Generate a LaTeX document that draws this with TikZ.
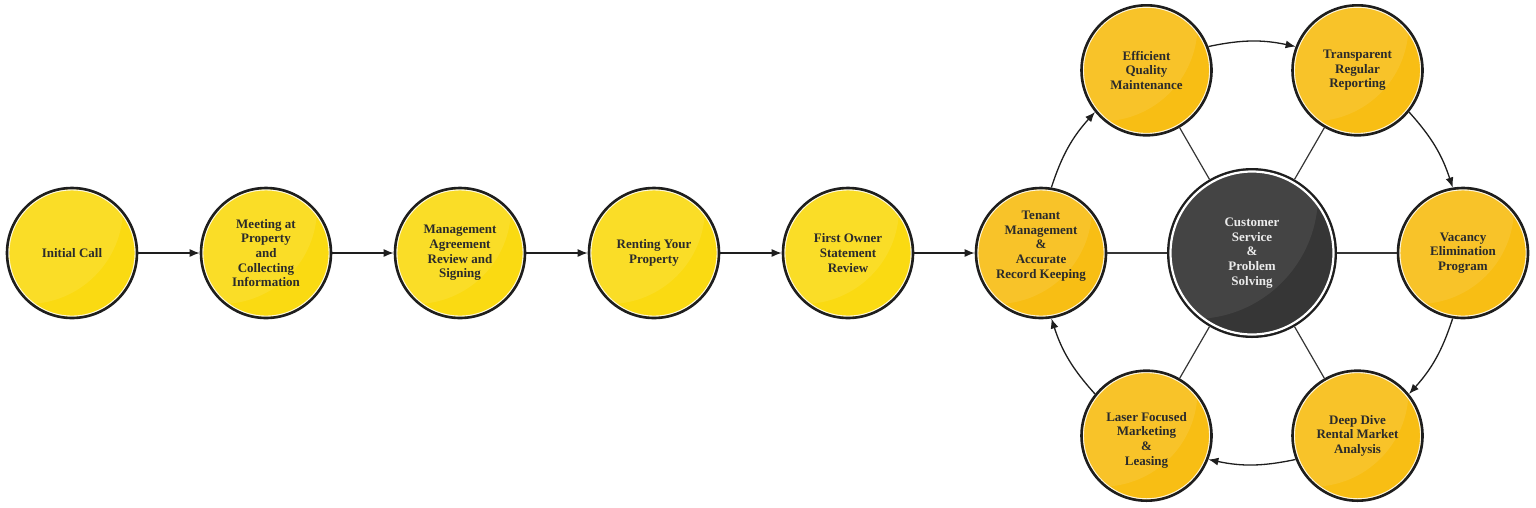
\documentclass[tikz,border=0pt]{standalone}
\usepackage{fontspec}
\setmainfont{Liberation Serif}
\usetikzlibrary{arrows.meta}
\definecolor{ylw}{HTML}{FADA12}
\definecolor{org}{HTML}{F8BE14}
\definecolor{drk}{HTML}{363636}
\definecolor{edge}{HTML}{1E1E1E}
\definecolor{txt}{HTML}{2B2B2B}
\tikzset{
  bub/.style={circle, minimum size=130pt, inner sep=0pt, draw=edge, line width=2.6pt,
    fill=#1, align=center, text=txt,
    font=\fontsize{13}{14.7}\selectfont\bfseries,
    path picture={
      \fill[white, opacity=0.09] ([xshift=-45pt,yshift=45pt]path picture bounding box.center) circle (96pt);
      \draw[white, opacity=0.85, line width=1.3pt] (path picture bounding box.center) circle (63.2pt);
    }},
  hub/.style={circle, minimum size=168pt, inner sep=0pt, draw=edge, line width=2pt,
    fill=drk, align=center, text=white!92!black,
    font=\fontsize{13}{14.7}\selectfont\bfseries,
    path picture={
      \fill[white, opacity=0.07] ([xshift=-58pt,yshift=58pt]path picture bounding box.center) circle (124pt);
      \draw[white, line width=2.2pt] (path picture bounding box.center) circle (81.5pt);
    }},
  flow/.style={draw=edge, line width=1.3pt, -{Latex[length=10pt,width=8pt]}},
  spoke/.style={draw=edge!90!white, line width=1.2pt},
  lbl/.style={align=center, text=txt, font=\fontsize{13}{14.7}\selectfont\bfseries},
}
\begin{document}
\begin{tikzpicture}[x=1pt,y=-1pt]
\useasboundingbox (0,0) rectangle (1536,507);
% chain
\node[bub=ylw] (n1) at (72,253) {Initial Call};
\node[bub=ylw] (n2) at (266,253) {Meeting at\\Property\\and\\Collecting\\Information};
\node[bub=ylw] (n3) at (460,253) {Management\\Agreement\\Review and\\Signing};
\node[bub=ylw] (n4) at (654,253) {Renting Your\\Property};
\node[bub=ylw] (n5) at (848,253) {First Owner\\Statement\\Review};
% ring
\node[hub] (c) at (1252,253) {Customer\\Service\\\&\\Problem\\Solving};
\node[bub=org] (t) at (1041,253) {};
\node[bub=org] (e) at (1146.5,70.3) {Efficient\\Quality\\Maintenance};
\node[bub=org] (r) at (1357.5,70.3) {Transparent\\Regular\\Reporting};
\node[bub=org] (v) at (1463,253) {Vacancy\\Elimination\\Program};
\node[bub=org] (d) at (1357.5,435.7) {Deep Dive\\Rental Market\\Analysis};
\node[bub=org] (l) at (1146.5,435.7) {};
\node[lbl] (tl) at (1041,246) {Tenant\\Management\\\&\\Accurate\\Record Keeping};
\node[lbl] (ll) at (1146.5,440) {Laser Focused\\Marketing\\\&\\Leasing};
% chain arrows
\draw[flow] (n1) -- (n2);
\draw[flow] (n2) -- (n3);
\draw[flow] (n3) -- (n4);
\draw[flow] (n4) -- (n5);
\draw[flow] (n5) -- (t);
% spokes
\foreach \k in {t,e,r,v,d,l} \draw[spoke] (c) -- (\k);
% ring arrows (arcs of the ring circle)
\draw[flow] (t.81) to[out=72, in=228] (e.219);
\draw[flow] (e.21) to[out=12, in=168] (r.159);
\draw[flow] (r.-39) to[out=-48, in=108] (v.99);
\draw[flow] (v.-99) to[out=-108, in=48] (d.39);
\draw[flow] (d.-159) to[out=-168, in=-12] (l.-21);
\draw[flow] (l.141) to[out=132, in=-72] (t.-81);
\end{tikzpicture}
\end{document}
